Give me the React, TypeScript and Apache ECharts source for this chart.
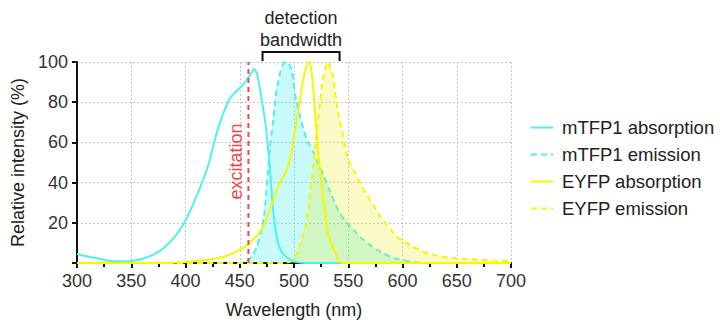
import React, { useEffect, useRef } from "react";
import * as echarts from "echarts";

// mTFP1 absorption (solid cyan)
const mtfp1AbsNm = [300, 310, 320, 330, 340, 350, 360, 370, 380, 390, 400, 410, 420, 430, 440, 445, 450, 455, 460, 463, 466, 470, 474, 477, 479, 481, 484, 488, 493, 500, 510, 600, 700];
const mtfp1AbsVal = [4.5, 3.2, 2.2, 1.0, 0.8, 1.0, 2.0, 4.0, 7.5, 13, 21, 33, 47, 67, 81, 84.5, 87, 90, 94, 96.5, 94, 82, 68, 52, 38, 25, 13, 6, 3, 0.8, 0, 0, 0];

// mTFP1 emission (dashed cyan, filled)
const mtfp1EmNm = [300, 400, 450, 455, 458, 462, 466, 469, 472, 474, 476, 478, 481, 484, 487, 490, 492, 495, 498, 501, 505, 509, 513, 518, 522, 527, 533, 541, 548, 555, 562, 570, 580, 588, 595, 600, 610, 620, 700];
const mtfp1EmVal = [0, 0, 0, 0.5, 1.5, 4, 8.5, 14, 22, 32, 46, 58, 72, 86, 94, 99, 100, 99, 96, 84, 74, 66, 60, 55, 50, 44, 36, 26, 20.5, 16.5, 12.5, 9, 5.5, 3.3, 2, 1.5, 0.5, 0, 0];

// EYFP absorption (solid yellow)
const eyfpAbsNm = [300, 380, 400, 420, 430, 440, 450, 456, 462, 468, 473, 478, 482, 486, 490, 493, 496, 499, 502, 505, 508, 511, 514, 516, 518, 520, 522, 524, 526, 528.5, 531, 534, 537, 540, 542, 545, 700];
const eyfpAbsVal = [0, 0, 0.5, 1.5, 2.5, 4, 6.5, 8.5, 11.5, 15, 20, 27, 33, 39, 43, 46, 51, 59, 70, 79, 90, 97, 100, 96, 85, 70, 56, 46, 38, 26, 16, 10, 6.5, 2.5, 0.5, 0, 0];

// EYFP emission (dashed yellow, filled)
const eyfpEmNm = [300, 490, 495, 499, 502, 505, 508, 511, 514, 516, 518, 520, 522, 524, 526, 528, 531, 533, 536, 539, 542, 545, 548, 552, 556, 561, 566, 570, 575, 579, 584, 590, 595, 601, 608, 616, 622, 635, 650, 668, 685, 700];
const eyfpEmVal = [0, 0, 0.5, 1.6, 4, 8, 13, 19, 30, 40, 50, 60, 70, 80, 89, 95, 100, 98, 93, 80, 71, 64, 55, 49, 45, 40, 35, 31.5, 27, 23.5, 20, 16, 13, 11, 8.5, 6.5, 5, 3.3, 2.3, 1.6, 1.2, 1];

const seriesNames = ["mTFP1 absorption", "mTFP1 emission", "EYFP absorption", "EYFP emission"];
const EXCITATION_NM = 458;
const BANDWIDTH_NM = [471, 542];

const zip = (xs: number[], ys: number[]) => xs.map((x, i) => [x, ys[i]]);

const CYAN = "#4ff0f2";
const YELLOW = "#f7f700";
const FONT = "'Liberation Sans', Arial, Helvetica, sans-serif";

export default function App() {
  const ref = useRef<HTMLDivElement>(null);
  useEffect(() => {
    const chart = echarts.init(ref.current!, null, { renderer: "svg" });
    const axisLineStyle = { color: "#111", width: 2 };
    chart.setOption({
      animation: false,
      textStyle: { fontFamily: FONT },
      grid: { left: 77, right: 209, top: 62, bottom: 64 },
      legend: {
        data: seriesNames,
        orient: "vertical",
        left: 525,
        top: 113,
        itemWidth: 22,
        itemHeight: 14,
        itemGap: 8,
        itemStyle: { opacity: 0 },
        textStyle: { fontSize: 18.5, color: "#222", fontFamily: FONT, padding: [0, 0, 0, 4] },
      },
      xAxis: {
        type: "value",
        min: 300,
        max: 700,
        interval: 50,
        name: "Wavelength (nm)",
        nameLocation: "middle",
        nameGap: 38,
        nameTextStyle: { fontSize: 18, color: "#222", fontFamily: FONT },
        axisLine: { show: true, lineStyle: axisLineStyle },
        axisTick: { show: true, length: 5, lineStyle: { color: "#111", width: 2 } },
        minorTick: { show: true, splitNumber: 2, length: 4, lineStyle: { color: "#111", width: 2 } },
        axisLabel: { fontSize: 18, color: "#333", margin: 9, fontFamily: FONT },
        splitLine: { show: true, lineStyle: { color: "#c8c8c8", type: [2, 2], width: 1 } },
      },
      yAxis: {
        type: "value",
        min: 0,
        max: 100,
        interval: 20,
        name: "Relative intensity (%)",
        nameLocation: "middle",
        nameGap: 46,
        nameTextStyle: { fontSize: 18, color: "#222", fontFamily: FONT },
        axisLine: { show: true, lineStyle: axisLineStyle },
        axisTick: { show: true, length: 5, lineStyle: { color: "#111", width: 2 } },
        axisLabel: {
          fontSize: 18,
          color: "#333",
          margin: 9,
          fontFamily: FONT,
          formatter: (v: number) => (v === 0 ? "" : String(v)),
        },
        splitLine: { show: true, lineStyle: { color: "#c8c8c8", type: [2, 2], width: 1 } },
      },
      series: [
        {
          name: seriesNames[1],
          type: "line",
          data: zip(mtfp1EmNm, mtfp1EmVal),
          smooth: 0.25,
          symbol: "none",
          color: CYAN,
          lineStyle: { color: CYAN, width: 2, type: [6, 4] },
          areaStyle: { color: "rgba(0,232,232,0.3)", origin: "start" },
          z: 2,
        },
        {
          name: seriesNames[3],
          type: "line",
          data: zip(eyfpEmNm, eyfpEmVal),
          smooth: 0.25,
          symbol: "none",
          color: YELLOW,
          lineStyle: { color: YELLOW, width: 2, type: [6, 4] },
          areaStyle: { color: "rgba(232,232,0,0.32)", origin: "start" },
          z: 3,
        },
        {
          name: seriesNames[0],
          type: "line",
          data: zip(mtfp1AbsNm, mtfp1AbsVal),
          smooth: 0.25,
          symbol: "none",
          color: CYAN,
          lineStyle: { color: CYAN, width: 2 },
          z: 4,
        },
        {
          name: seriesNames[2],
          type: "line",
          data: zip(eyfpAbsNm, eyfpAbsVal),
          smooth: 0.25,
          symbol: "none",
          color: YELLOW,
          lineStyle: { color: YELLOW, width: 2 },
          z: 5,
        },
        {
          name: "excitation",
          type: "line",
          data: [
            [EXCITATION_NM, 0],
            [EXCITATION_NM, 100],
          ],
          symbol: "none",
          lineStyle: { color: "#f04848", width: 2, type: [5, 4] },
          z: 6,
          silent: true,
        },
      ],
    });

    const px = (x: number, y: number) => chart.convertToPixel({ gridIndex: 0 }, [x, y]) as number[];
    const exc = px(EXCITATION_NM, 50);
    const bl = px(BANDWIDTH_NM[0], 100);
    const br = px(BANDWIDTH_NM[1], 100);
    const midX = (bl[0] + br[0]) / 2;
    chart.setOption({
      graphic: [
        {
          type: "text",
          x: exc[0] - 12,
          y: exc[1] - 1,
          rotation: Math.PI / 2,
          style: {
            text: "excitation",
            fill: "#f04848",
            font: `18px ${FONT}`,
            align: "center",
            verticalAlign: "middle",
          },
        },
        {
          type: "polyline",
          shape: {
            points: [
              [bl[0], bl[1] - 1],
              [bl[0], bl[1] - 10],
              [br[0], br[1] - 10],
              [br[0], br[1] - 1],
            ],
          },
          style: { stroke: "#111", lineWidth: 2, fill: null },
        },
        {
          type: "text",
          x: midX,
          y: 18,
          style: { text: "detection", fill: "#222", font: `18px ${FONT}`, align: "center", verticalAlign: "middle" },
        },
        {
          type: "text",
          x: midX,
          y: 40,
          style: { text: "bandwidth", fill: "#222", font: `18px ${FONT}`, align: "center", verticalAlign: "middle" },
        },
      ],
    });
    return () => chart.dispose();
  }, []);
  return <div ref={ref} style={{ position: "absolute", left: 0, top: 0, width: 720, height: 327 }} />;
}
